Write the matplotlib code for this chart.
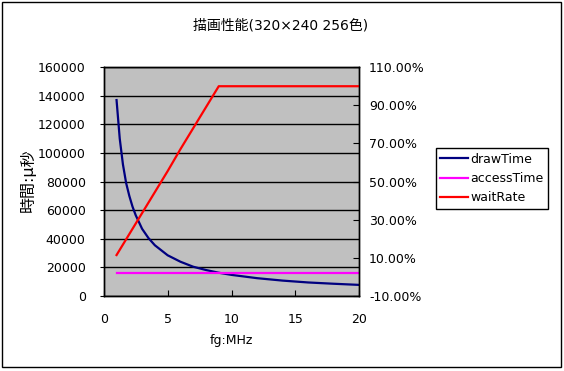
import matplotlib.pyplot as plt
from matplotlib.patches import Rectangle
from matplotlib.ticker import FuncFormatter

plt.rcParams['font.family'] = ['DejaVu Sans', 'Noto Sans CJK JP']

# データ
fg = [1, 1.25, 1.5, 1.75, 2, 2.25, 2.5, 3, 3.5, 4, 5, 6, 7, 8, 9, 10,
      12, 14, 16, 18, 20]
drawTime = [137000, 110000, 92000, 79000, 70000, 62500, 56500, 47000, 40500,
            35500, 28500, 24000, 20500, 18200, 16300, 14800, 12500, 10800,
            9500, 8600, 7800]
accessTime = [16300] * len(fg)
waitRate = [0.115, 0.1425, 0.17, 0.1975, 0.225, 0.2525, 0.28, 0.335, 0.39,
            0.445, 0.555, 0.67, 0.78, 0.89, 1.0, 1.0, 1.0, 1.0, 1.0, 1.0, 1.0]

title = '描画性能(320×240 256色)'
xlabel = 'fg:MHz'
ylabel = '時間:μ秒'

fig = plt.figure(figsize=(5.64, 3.71), dpi=100)
ax = fig.add_axes([0.184, 0.202, 0.453, 0.617])
ax2 = ax.twinx()

ax.set_facecolor('#C0C0C0')
l1, = ax.plot(fg, drawTime, color='#000080', lw=1.6, label='drawTime')
l2, = ax.plot(fg, accessTime, color='#FF00FF', lw=1.6, label='accessTime')
l3, = ax2.plot(fg, waitRate, color='#FF0000', lw=1.6, label='waitRate')

ax.set_xlim(0, 20)
ax.set_ylim(0, 160000)
ax.set_xticks([0, 5, 10, 15, 20])
ax.set_yticks(range(0, 160001, 20000))
ax.yaxis.grid(True, color='black', lw=1)
ax.set_axisbelow(True)

ax2.set_ylim(-0.1, 1.1)
ax2.set_yticks([-0.1, 0.1, 0.3, 0.5, 0.7, 0.9, 1.1])
ax2.yaxis.set_major_formatter(FuncFormatter(lambda v, p: '%.2f%%' % (v * 100)))

for a in (ax, ax2):
    for s in a.spines.values():
        s.set_color('black')
        s.set_linewidth(1)

ax.tick_params(axis='y', direction='out', length=3, pad=10, labelsize=9)
ax.tick_params(axis='x', direction='in', length=4, pad=12, labelsize=9)
ax2.tick_params(axis='y', direction='in', length=4, pad=7, labelsize=9)

fig.text(0.498, 0.932, title, ha='center', va='center', fontsize=10)
fig.text(0.41, 0.083, xlabel, ha='center', va='center', fontsize=9)
fig.text(0.05, 0.515, ylabel, ha='center', va='center', rotation=90, fontsize=11.5)

leg = fig.legend(handles=[l1, l2, l3], loc='upper left',
                 bbox_to_anchor=(0.773, 0.6), fontsize=9, fancybox=False,
                 framealpha=1, edgecolor='black', handlelength=2.2,
                 handletextpad=0.2, borderpad=0.35, labelspacing=0.5,
                 borderaxespad=0)
leg.get_frame().set_linewidth(1)

fig.patches.append(Rectangle((0.004, 0.012), 0.99, 0.982, transform=fig.transFigure,
                             fill=False, edgecolor='black', lw=1))

fig.savefig('out.png', dpi=100)
